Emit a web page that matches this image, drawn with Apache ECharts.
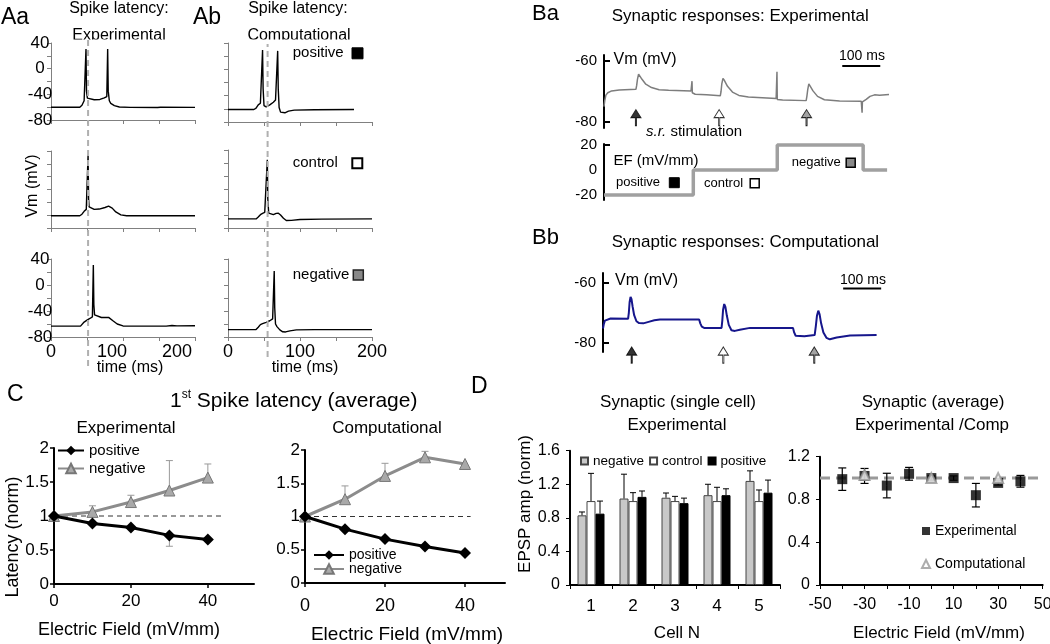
<!DOCTYPE html>
<html><head><meta charset="utf-8">
<script src="https://cdn.jsdelivr.net/npm/echarts@6/dist/echarts.min.js"></script>
<style>html,body{margin:0;padding:0;background:#fff}#c{width:1050px;height:644px}</style>
</head><body><div id="c"></div><script>
// ===================== DATA =====================
// Panel A: membrane potential traces [time (ms), Vm (mV)]
const aaPositive = [[0,-60.2],[40,-60.2],[43,-57],[46,-50],[48,-48.5],[48.6,30.5],[49.3,-35],[50.5,-46],[52,-47.7],[60,-48.5],[68,-48],[74,-45.5],[77.5,-43.5],[78.7,30.5],[79.5,-35],[81,-50],[83,-54],[88,-57.5],[95,-59.8],[110,-60.3],[148,-60.5],[150,-59.2],[152,-60.2],[200,-60.3]];
const aaControl = [[0,-61],[40,-61],[43,-58.5],[46,-54],[49,-51],[51,-49.5],[51.5,34],[52.2,-35],[53,-47],[55,-48],[60,-51],[67,-50.5],[75,-48],[80,-46],[82,-45.5],[85,-49],[90,-55],[97,-59.5],[105,-61],[200,-61]];
const aaNegative = [[0,-63.3],[41,-63.3],[43,-61],[46,-57],[50,-54],[54,-51.5],[57.5,-49],[58.8,30.8],[59.5,-30],[60.5,-46],[62,-48.5],[70,-50],[80,-49.8],[82,-50.5],[86,-55],[92,-60],[100,-63],[160,-63.2],[168,-62.4],[175,-62.9],[200,-62.8]];
const abPositive = [[0,-61],[36,-61],[39,-59],[42,-54],[45,-51.5],[47,-49],[48,29.5],[48.8,-30],[50,-55],[53,-57],[58,-54],[63,-50],[66,-46.5],[68,-44],[69,28],[69.8,-30],[71,-58],[73,-65],[75.5,-67],[79,-66],[84,-63.5],[92,-62],[120,-61.5],[175,-61]];
const abControl = [[0,-66],[39,-66],[42,-63],[45,-59.5],[48,-57.5],[51,-56],[53.5,-53],[54.6,25],[55.3,-35],[56.5,-57],[59,-60],[63,-59.5],[67,-57.5],[70,-57.2],[73,-60],[77,-65],[81,-68.5],[88,-68.3],[100,-67],[130,-66.3],[200,-66]];
const abNegative = [[0,-68.6],[39,-68.6],[42,-65],[45,-61],[48,-59.5],[53,-57.5],[58,-55],[62,-52],[63.5,-50],[64.2,21.5],[64.9,-35],[66,-60],[68,-64],[72,-69],[76,-72],[80,-72.2],[86,-70.5],[95,-69],[120,-68.7],[200,-68.6]];
const aaLatencyMarker = 51.5;   // ms, dashed reference line (experimental)
const abLatencyMarker = 55;     // ms, dashed reference line (computational)
const aTimeTicks = [0, 50, 100, 150, 200];
const aTimeLabels = [0, 100, 200];
const aVmTicks = [-80, -60, -40, -20, 0, 20, 40];
const aVmLabels = [-80, -40, 0, 40];

// Panel B: synaptic responses [time (ms), Vm (mV)]
const baTrace = [[0,-75],[2,-73],[5,-71.2],[10,-70.4],[20,-69.8],[40,-69.5],[84,-69.3],[86,-68],[88,-66],[91,-64.3],[94,-64.6],[100,-66],[110,-67.6],[125,-68.7],[145,-69.4],[170,-69.6],[229,-69.8],[231,-69.8],[231.6,-66.6],[232.4,-70.4],[240,-70.9],[270,-71.1],[306,-71.4],[308,-70],[310,-67.5],[313,-65.7],[317,-66.4],[325,-68.3],[338,-70.2],[355,-71.3],[380,-71.8],[453,-72.3],[454.5,-72.3],[455.2,-63.5],[456,-72.6],[470,-72.8],[532,-73],[534,-71.5],[536,-69.5],[539,-67.5],[543,-68],[550,-69.8],[562,-71.6],[580,-72.7],[620,-73.1],[677,-73.2],[678.5,-73.2],[679.2,-77],[680,-73.4],[690,-72.6],[700,-71.6],[712,-71.1],[725,-71.2],[750,-71]];
const baStimTimes = [84, 303, 533];
const efStepTimes = [0, 235, 456, 682, 745];
const efStepLevels = [-20, 0, 20, 0, 0];
const bbTrace = [[0,-75.2],[2,-73.8],[5,-72.6],[10,-72.1],[20,-71.9],[66,-72.0],[68,-70],[70,-66.5],[72.5,-64.7],[75,-65.5],[78,-68],[82,-70.8],[88,-72.8],[95,-73.4],[106,-73.5],[120,-73],[135,-72.5],[150,-72.2],[253,-72.2],[256,-73.5],[260,-74.6],[266,-75.0],[312,-75.0],[314,-72.5],[316,-69],[319,-67.1],[322,-68],[326,-71],[331,-74],[338,-75.8],[347,-76.0],[360,-75.6],[387,-75.0],[500,-75.0],[503,-76.5],[507,-77.6],[512,-78.1],[530,-77.8],[557,-77.4],[560,-74.5],[563,-71],[566.6,-69.3],[570,-70.5],[574,-73.5],[580,-76.5],[588,-78.3],[597,-78.8],[615,-78.2],[650,-77.5],[720,-77.4]];
const bbStimTimes = [75.5, 316.6, 556];
const baScaleBarStart = 627;
const bbScaleBarStart = 632;
const scaleBarMs = 100;
const bVmTicks = [-80, -60];
const efTicks = [-20, 20];
const efTickLabels = [-20, 0, 20];

// Panel C: 1st spike latency (norm) vs electric field (mV/mm)
const cField = [0, 10, 20, 30, 40];
const cExpPositive = [1.0, 0.89, 0.83, 0.715, 0.655];
const cExpPositiveErrDown = [0, 0, 0, 0.16, 0];
const cExpNegative = [1.0, 1.06, 1.205, 1.375, 1.565];
const cExpNegativeErrUp = [0, 0.09, 0.10, 0.44, 0.20];
const cCompPositive = [1.0, 0.81, 0.66, 0.55, 0.45];
const cCompNegative = [1.0, 1.26, 1.61, 1.89, 1.79];
const cCompNegativeErrUp = [0, 0.20, 0.19, 0.09, 0];
const cRefExpEnd = 43.5;
const cRefCompEnd = 41.4;
const cLatencyTicks = [0, 0.5, 1, 1.5, 2];
const cFieldTicks = [0, 20, 40];

// Panel D: EPSP amplitude (norm)
const dCells = ['1', '2', '3', '4', '5'];
const dNegative = [0.83, 1.03, 1.04, 1.07, 1.24];
const dNegativeErr = [0.04, 0.29, 0.056, 0.13, 0.12];
const dControl = [1.0, 1.0, 1.0, 1.0, 1.0];
const dControlErr = [0.33, 0.10, 0.056, 0.164, 0.132];
const dPositive = [0.85, 1.05, 0.975, 1.07, 1.10];
const dPositiveErr = [0.15, 0.07, 0.06, 0.076, 0.15];
const dAmpTicks = [0, 0.4, 0.8, 1.2, 1.6];
const dField = [-40, -30, -20, -10, 0, 10, 20, 30, 40];
const dExpMean = [0.99, 1.02, 0.93, 1.04, 1.0, 1.0, 0.84, 0.955, 0.97];
const dExpErr = [0.105, 0.07, 0.115, 0.06, 0.02, 0.02, 0.11, 0.02, 0.055];
const dCompField = [-30, 0, 30];
const dCompMean = [1.03, 1.0, 1.0];
const dFieldTicks = [-50, -30, -10, 10, 30, 50];
const dFieldMinorTicks = [-50, -40, -30, -20, -10, 0, 10, 20, 30, 40, 50];
const dNormTicks = [0, 0.4, 0.8, 1.2];
const dRefLevel = 1.0;

// ===================== BUILD =====================
const FONT = '"Liberation Sans", Arial, Helvetica, sans-serif';
const grids = [], xAxes = [], yAxes = [], series = [], graphics = [];

function addGrid(g) { grids.push(Object.assign({ outerBoundsMode: 'none', containLabel: false, show: false }, g)); return grids.length - 1; }
function valAxis(gi, o) {
  return {
    gridIndex: gi, type: 'value', min: o.min, max: o.max, show: o.show !== false,
    axisLine: { show: true, onZero: false, lineStyle: { color: o.color || '#000', width: o.lw || 1 } },
    axisTick: { show: !!o.ticks, customValues: o.ticks, inside: !!o.inside, length: o.tickLen || 4,
      lineStyle: { color: o.color || '#000', width: o.tickLw || o.lw || 1 } },
    axisLabel: { show: !!o.labels, customValues: o.labels, fontSize: o.fs || 16, fontFamily: FONT, color: '#000',
      margin: o.margin != null ? o.margin : 8, align: o.align, formatter: o.formatter, rich: o.rich },
    splitLine: { show: false }
  };
}
function T(text, x, y, size, o) {
  o = o || {};
  graphics.push({ type: 'text', x: x, y: y, z: o.z != null ? o.z : 10, rotation: o.rot || 0, silent: true,
    style: { text: text, fontSize: size, fontFamily: FONT, fill: '#000', align: o.align || 'center',
      verticalAlign: 'middle', rich: o.rich } });
}
function SQ(cx, cy, s, fill, stroke, lw) {
  graphics.push({ type: 'rect', z: 10, silent: true, shape: { x: cx - s / 2, y: cy - s / 2, width: s, height: s },
    style: { fill: fill, stroke: stroke, lineWidth: lw } });
}
function errSeries(gi, data, o) {
  return { type: 'custom', xAxisIndex: gi, yAxisIndex: gi, z: o.z || 3, silent: true, clip: false,
    encode: { x: 0, y: 1 }, data: data,
    renderItem: function (params, api) {
      const x = api.value(0), y = api.value(1), up = api.value(2), dn = api.value(3);
      const c = api.coord([x, y]);
      const cx = c[0] + (o.offset || 0);
      const st = { stroke: o.color, lineWidth: o.lw };
      const ch = [];
      if (up > 0) {
        const p = api.coord([x, y + up]);
        ch.push({ type: 'line', shape: { x1: cx, y1: c[1], x2: cx, y2: p[1] }, style: st });
        ch.push({ type: 'line', shape: { x1: cx - o.cap / 2, y1: p[1], x2: cx + o.cap / 2, y2: p[1] }, style: st });
      }
      if (dn > 0) {
        const p = api.coord([x, y - dn]);
        ch.push({ type: 'line', shape: { x1: cx, y1: c[1], x2: cx, y2: p[1] }, style: st });
        ch.push({ type: 'line', shape: { x1: cx - o.cap / 2, y1: p[1], x2: cx + o.cap / 2, y2: p[1] }, style: st });
      }
      return { type: 'group', children: ch };
    } };
}

// ---------- Panel A ----------
const AX = '#808080';
const aPanels = [
  { trace: aaPositive, left: 51, top: 43, height: 77, yl: true, xl: false },
  { trace: aaControl, left: 51, top: 151, height: 77, yl: false, xl: false },
  { trace: aaNegative, left: 51, top: 259, height: 78, yl: true, xl: true, shift: true },
  { trace: abPositive, left: 228, top: 43, height: 79, yl: false, xl: false },
  { trace: abControl, left: 228, top: 150, height: 78, yl: false, xl: false },
  { trace: abNegative, left: 228, top: 259, height: 78, yl: false, xl: true }
];
aPanels.forEach(function (p) {
  const gi = addGrid({ left: p.left, top: p.top, width: 144, height: p.height });
  const xo = { min: 0, max: 200, color: AX, ticks: aTimeTicks, labels: p.xl ? aTimeLabels : null, fs: 18, margin: 6 };
  if (p.shift) {
    xo.formatter = function (v) { return v === 0 ? '{n|0}' : (v === 100 ? '{a|100}' : '{b|200}'); };
    xo.rich = { n: { fontSize: 18, fontFamily: FONT, color: '#000' },
      a: { fontSize: 18, fontFamily: FONT, color: '#000', padding: [0, 22, 0, 0] },
      b: { fontSize: 18, fontFamily: FONT, color: '#000', padding: [0, 36, 0, 0] } };
  }
  xAxes.push(valAxis(gi, xo));
  yAxes.push(valAxis(gi, { min: -80, max: 40, color: AX, ticks: aVmTicks, labels: p.yl ? aVmLabels : null, fs: 17, margin: 11, align: 'center' }));
  series.push({ type: 'line', xAxisIndex: gi, yAxisIndex: gi, data: p.trace, symbol: 'none', silent: true,
    lineStyle: { color: '#000', width: 1.4 }, z: 2 });
});
// dashed latency markers (overlay grids spanning the three stacked plots)
[{ left: 51, top: 37, height: 329, t: aaLatencyMarker }, { left: 228, top: 44, height: 313, t: abLatencyMarker }].forEach(function (o) {
  const gi = addGrid({ left: o.left, top: o.top, width: 144, height: o.height });
  xAxes.push(valAxis(gi, { min: 0, max: 200, show: false }));
  yAxes.push(valAxis(gi, { min: 0, max: 1, show: false }));
  series.push({ type: 'line', xAxisIndex: gi, yAxisIndex: gi, data: [[o.t, 0], [o.t, 1]], symbol: 'none', silent: true,
    lineStyle: { color: '#b0b0b0', width: 2, type: [6, 4] }, z: 4 });
});

// ---------- Panel B ----------
const arrowPath = 'path://M5,0L10,8L5.6,8L5.6,16L4.4,16L4.4,8L0,8Z';
const stimFill = ['#000', '#fff', '#8c8c8c'];
function bVmGrid(left, top, height, min, max, trace, color, lw, stims, arrowLevel, barStart, barLevel) {
  const gi = addGrid({ left: left, top: top, width: 285, height: height });
  xAxes.push(valAxis(gi, { min: 0, max: 750, show: false }));
  yAxes.push(valAxis(gi, { min: min, max: max, lw: 2, ticks: bVmTicks, inside: true, tickLen: 6, labels: bVmTicks, fs: 15, margin: 7 }));
  series.push({ type: 'line', xAxisIndex: gi, yAxisIndex: gi, data: trace, symbol: 'none', silent: true,
    lineStyle: { color: color, width: lw }, z: 2 });
  series.push({ type: 'scatter', xAxisIndex: gi, yAxisIndex: gi, clip: false, silent: true, symbol: arrowPath, symbolSize: [10, 16], z: 5,
    data: stims.map(function (t, i) { return { value: [t, arrowLevel], itemStyle: { color: stimFill[i], borderColor: '#000', borderWidth: 1 } }; }) });
  series.push({ type: 'line', xAxisIndex: gi, yAxisIndex: gi, data: [[barStart, barLevel], [barStart + scaleBarMs, barLevel]], symbol: 'none', silent: true,
    lineStyle: { color: '#000', width: 2 }, z: 3 });
  return gi;
}
bVmGrid(604, 55, 73, -82, -58, baTrace, '#7d7d7d', 1.5, baStimTimes, -78.6, baScaleBarStart, -61.6);
(function () {
  const gi = addGrid({ left: 604, top: 144, width: 285, height: 56 });
  xAxes.push(valAxis(gi, { min: 0, max: 750, show: false }));
  yAxes.push(valAxis(gi, { min: -24, max: 20.8, lw: 2, ticks: efTicks, inside: true, tickLen: 6, labels: efTickLabels, fs: 15, margin: 7 }));
  series.push({ type: 'line', xAxisIndex: gi, yAxisIndex: gi, step: 'end', symbol: 'none', silent: true,
    data: efStepTimes.map(function (t, i) { return [t, efStepLevels[i]]; }),
    lineStyle: { color: '#a0a0a0', width: 3.5 }, z: 2 });
})();
bVmGrid(603, 273, 79, -83, -56.8, bbTrace, '#16168c', 2, bbStimTimes, -84.0, bbScaleBarStart, -61.9);

// ---------- Panel C ----------
function cPanel(left, top, width, height, xmax, pos, neg, posErrDown, negErrUp, refEnd, xfs, xmargin) {
  const gi = addGrid({ left: left, top: top, width: width, height: height });
  xAxes.push(valAxis(gi, { min: 0, max: xmax, lw: 2, ticks: cFieldTicks, tickLw: 1.5, labels: cFieldTicks, fs: xfs, margin: xmargin }));
  yAxes.push(valAxis(gi, { min: 0, max: 2, lw: 2, ticks: cLatencyTicks, tickLw: 1.5, labels: cLatencyTicks, fs: 17, margin: 5 }));
  series.push({ type: 'line', xAxisIndex: gi, yAxisIndex: gi, data: [[0, 1], [refEnd, 1]], symbol: 'none', silent: true,
    lineStyle: { color: '#333', width: 1, type: [5, 4] }, z: 1 });
  series.push(errSeries(gi, cField.map(function (x, i) { return [x, pos[i], 0, posErrDown[i]]; }), { color: '#999', lw: 1, cap: 7, z: 2 }));
  series.push(errSeries(gi, cField.map(function (x, i) { return [x, neg[i], negErrUp[i], 0]; }), { color: '#999', lw: 1, cap: 7, z: 2 }));
  series.push({ name: 'positive', type: 'line', xAxisIndex: gi, yAxisIndex: gi, silent: true, z: 4,
    data: cField.map(function (x, i) { return [x, pos[i]]; }), symbol: 'diamond', symbolSize: 12, showSymbol: true,
    lineStyle: { color: '#000', width: 3 }, itemStyle: { color: '#000' } });
  series.push({ name: 'negative', type: 'line', xAxisIndex: gi, yAxisIndex: gi, silent: true, z: 3,
    data: cField.map(function (x, i) { return [x, neg[i]]; }), symbol: 'triangle', symbolSize: 11, showSymbol: true,
    lineStyle: { color: '#8c8c8c', width: 3 }, itemStyle: { color: '#a9a9a9', borderColor: '#777', borderWidth: 1 } });
}
cPanel(54, 448, 200, 136, 52, cExpPositive, cExpNegative, cExpPositiveErrDown, cExpNegativeErrUp, cRefExpEnd, 17, 9);
cPanel(305, 450, 200, 133, 50, cCompPositive, cCompNegative, [0, 0, 0, 0, 0], cCompNegativeErrUp, cRefCompEnd, 18, 14);

// ---------- Panel D (bars) ----------
const dLegendText = { dNeg: 'negative', dCtrl: 'control', dPos: 'positive' };
(function () {
  const gi = addGrid({ left: 570, top: 450.7, width: 210, height: 134.3 });
  xAxes.push({ gridIndex: gi, type: 'category', data: dCells,
    axisLine: { show: true, onZero: false, lineStyle: { color: '#000', width: 2 } },
    axisTick: { show: true, alignWithLabel: false, length: 4, lineStyle: { color: '#000', width: 1 } },
    axisLabel: { fontSize: 17, fontFamily: FONT, color: '#000', margin: 13 }, splitLine: { show: false } });
  yAxes.push(valAxis(gi, { min: 0, max: 1.6, lw: 2, ticks: dAmpTicks, tickLw: 1, labels: dAmpTicks, fs: 16, margin: 10 }));
  const sets = [
    { name: 'dNeg', vals: dNegative, err: dNegativeErr, color: '#c8c8c8', border: '#444' },
    { name: 'dCtrl', vals: dControl, err: dControlErr, color: '#ffffff', border: '#444' },
    { name: 'dPos', vals: dPositive, err: dPositiveErr, color: '#000000', border: '#000' }
  ];
  sets.forEach(function (s, k) {
    series.push({ name: s.name, type: 'bar', xAxisIndex: gi, yAxisIndex: gi, data: s.vals, barWidth: 9, barGap: '0%', silent: true, z: 2,
      itemStyle: { color: s.color, borderColor: s.border, borderWidth: 1 } });
  });
  sets.forEach(function (s, k) {
    series.push(errSeries(gi, s.vals.map(function (v, i) { return [i, v, s.err[i], 0]; }), { color: '#000', lw: 1, cap: 6, offset: (k - 1) * 9, z: 3 }));
  });
})();

// ---------- Panel D (scatter) ----------
(function () {
  const gi = addGrid({ left: 820, top: 456.7, width: 222.7, height: 128.3 });
  xAxes.push(valAxis(gi, { min: -50, max: 50, lw: 2, ticks: dFieldMinorTicks, tickLw: 1, labels: dFieldTicks, fs: 16, margin: 12 }));
  yAxes.push(valAxis(gi, { min: 0, max: 1.2, lw: 2, ticks: dNormTicks, tickLw: 1, labels: dNormTicks, fs: 16, margin: 10 }));
  series.push({ type: 'line', xAxisIndex: gi, yAxisIndex: gi, data: [[-50, dRefLevel], [50, dRefLevel]], symbol: 'none', silent: true,
    lineStyle: { color: '#9a9a9a', width: 3, type: [10, 6] }, z: 1 });
  series.push(errSeries(gi, dField.map(function (x, i) { return [x, dExpMean[i], dExpErr[i], dExpErr[i]]; }), { color: '#000', lw: 1.2, cap: 8, z: 2 }));
  series.push({ name: 'Experimental', type: 'scatter', xAxisIndex: gi, yAxisIndex: gi, silent: true, z: 3,
    data: dField.map(function (x, i) { return [x, dExpMean[i]]; }), symbol: 'rect', symbolSize: 10, itemStyle: { color: '#000' } });
  series.push({ name: 'Computational', type: 'scatter', xAxisIndex: gi, yAxisIndex: gi, silent: true, z: 4,
    data: dCompField.map(function (x, i) { return [x, dCompMean[i]]; }), symbol: 'triangle', symbolSize: 10,
    itemStyle: { color: '#fff', borderColor: '#999', borderWidth: 2 } });
})();

// ---------- Legends ----------
const legends = [
  { left: 57, top: 443, orient: 'vertical', padding: 0, itemGap: 3, itemWidth: 26, itemHeight: 12, selectedMode: false,
    data: ['positive', 'negative'], textStyle: { fontSize: 15, fontFamily: FONT, color: '#000' } },
  { left: 313, top: 548, orient: 'vertical', padding: 0, itemGap: 0, itemWidth: 30, itemHeight: 12, selectedMode: false,
    data: ['positive', 'negative'], textStyle: { fontSize: 14, fontFamily: FONT, color: '#000' } },
  { left: 580, top: 454, orient: 'horizontal', padding: 0, itemGap: 5, itemWidth: 7, itemHeight: 7, icon: 'rect', selectedMode: false,
    data: ['dNeg', 'dCtrl', 'dPos'], formatter: function (n) { return dLegendText[n]; },
    textStyle: { fontSize: 13.5, fontFamily: FONT, color: '#000' } },
  { left: 921, top: 524, orient: 'vertical', padding: 0, itemGap: 19, itemWidth: 8, itemHeight: 8, selectedMode: false,
    data: ['Experimental', 'Computational'], textStyle: { fontSize: 14, fontFamily: FONT, color: '#000' } }
];

// ---------- Texts / annotations ----------
// Panel A
T('Aa', 1, 18, 23, { align: 'left' });
T('Ab', 193, 18, 23, { align: 'left' });
T('Spike latency:', 119, 9, 16);
T('Experimental', 119, 36, 16, { z: 0 });
T('Spike latency:', 298, 9, 16);
T('Computational', 299, 36, 16, { z: 0 });
graphics.push({ type: 'rect', z: 1, silent: true, shape: { x: 62, y: 39.5, width: 116, height: 7.5 }, style: { fill: '#fff' } });
graphics.push({ type: 'rect', z: 1, silent: true, shape: { x: 238, y: 39.5, width: 124, height: 7.5 }, style: { fill: '#fff' } });
T('Vm (mV)', 33, 186, 16, { rot: Math.PI / 2 });
T('time (ms)', 130, 368, 16);
T('time (ms)', 305, 368, 16);
T('positive', 292.7, 53.3, 15, { align: 'left' }); SQ(357.5, 53.3, 11, '#000', '#000', 1);
T('control', 292.7, 163.3, 15, { align: 'left' }); SQ(357.3, 163.3, 10, '#fff', '#000', 2);
T('negative', 292.7, 275, 15, { align: 'left' }); SQ(358.3, 275, 10, '#888', '#222', 1.5);
// Panel B
T('Ba', 532, 14, 22, { align: 'left' });
T('Bb', 532, 238, 22, { align: 'left' });
T('Synaptic responses: Experimental', 611.7, 16, 17, { align: 'left' });
T('Synaptic responses: Computational', 611.7, 242, 17, { align: 'left' });
T('Vm (mV)', 613.5, 60, 16, { align: 'left' });
T('Vm (mV)', 615, 281, 16, { align: 'left' });
T('100 ms', 862, 56, 14);
T('100 ms', 863, 280, 14);
T('{i|s.r.}{n| stimulation}', 646, 132, 15, { align: 'left',
  rich: { i: { fontSize: 15, fontFamily: FONT, fontStyle: 'italic', fill: '#000' }, n: { fontSize: 15, fontFamily: FONT, fill: '#000' } } });
T('EF (mV/mm)', 613.5, 160.5, 15, { align: 'left' });
T('positive', 616, 182.7, 13, { align: 'left' }); SQ(674.3, 182.7, 10, '#000', '#000', 1);
T('control', 704, 183.3, 13, { align: 'left' }); SQ(754.7, 183.3, 9, '#fff', '#000', 1.5);
T('negative', 791.7, 162.7, 13, { align: 'left' }); SQ(850.7, 162.7, 9, '#888', '#000', 1.5);
// Panel C
T('C', 7, 395, 23, { align: 'left' });
T('{a|1}{b|st}{a| Spike latency (average)}', 170, 401, 21, { align: 'left',
  rich: { a: { fontSize: 21, fontFamily: FONT, fill: '#000', lineHeight: 24 }, b: { fontSize: 12, fontFamily: FONT, fill: '#000', verticalAlign: 'top', lineHeight: 12 } } });
T('Experimental', 126, 428, 17);
T('Computational', 387, 428, 17);
T('Latency (norm)', 13, 537, 18, { rot: Math.PI / 2 });
T('Electric Field (mV/mm)', 129, 630, 18);
T('Electric Field (mV/mm)', 407, 635, 19);
// Panel D
T('D', 471, 387, 23, { align: 'left' });
T('Synaptic (single cell)', 678, 402, 17);
T('Experimental', 677, 425, 17);
T('EPSP amp (norm)', 525, 504, 17, { rot: Math.PI / 2 });
T('Cell N', 677, 633, 17);
T('Synaptic (average)', 933, 402, 17);
T('Experimental /Comp', 932, 425, 17);
T('Electric Field (mV/mm)', 939, 633, 17);

const chart = echarts.init(document.getElementById('c'), null, { renderer: 'canvas' });
chart.setOption({
  animation: false,
  backgroundColor: '#fff',
  textStyle: { fontFamily: FONT },
  tooltip: { show: false },
  grid: grids, xAxis: xAxes, yAxis: yAxes, series: series, legend: legends, graphic: graphics
});
</script></body></html>
